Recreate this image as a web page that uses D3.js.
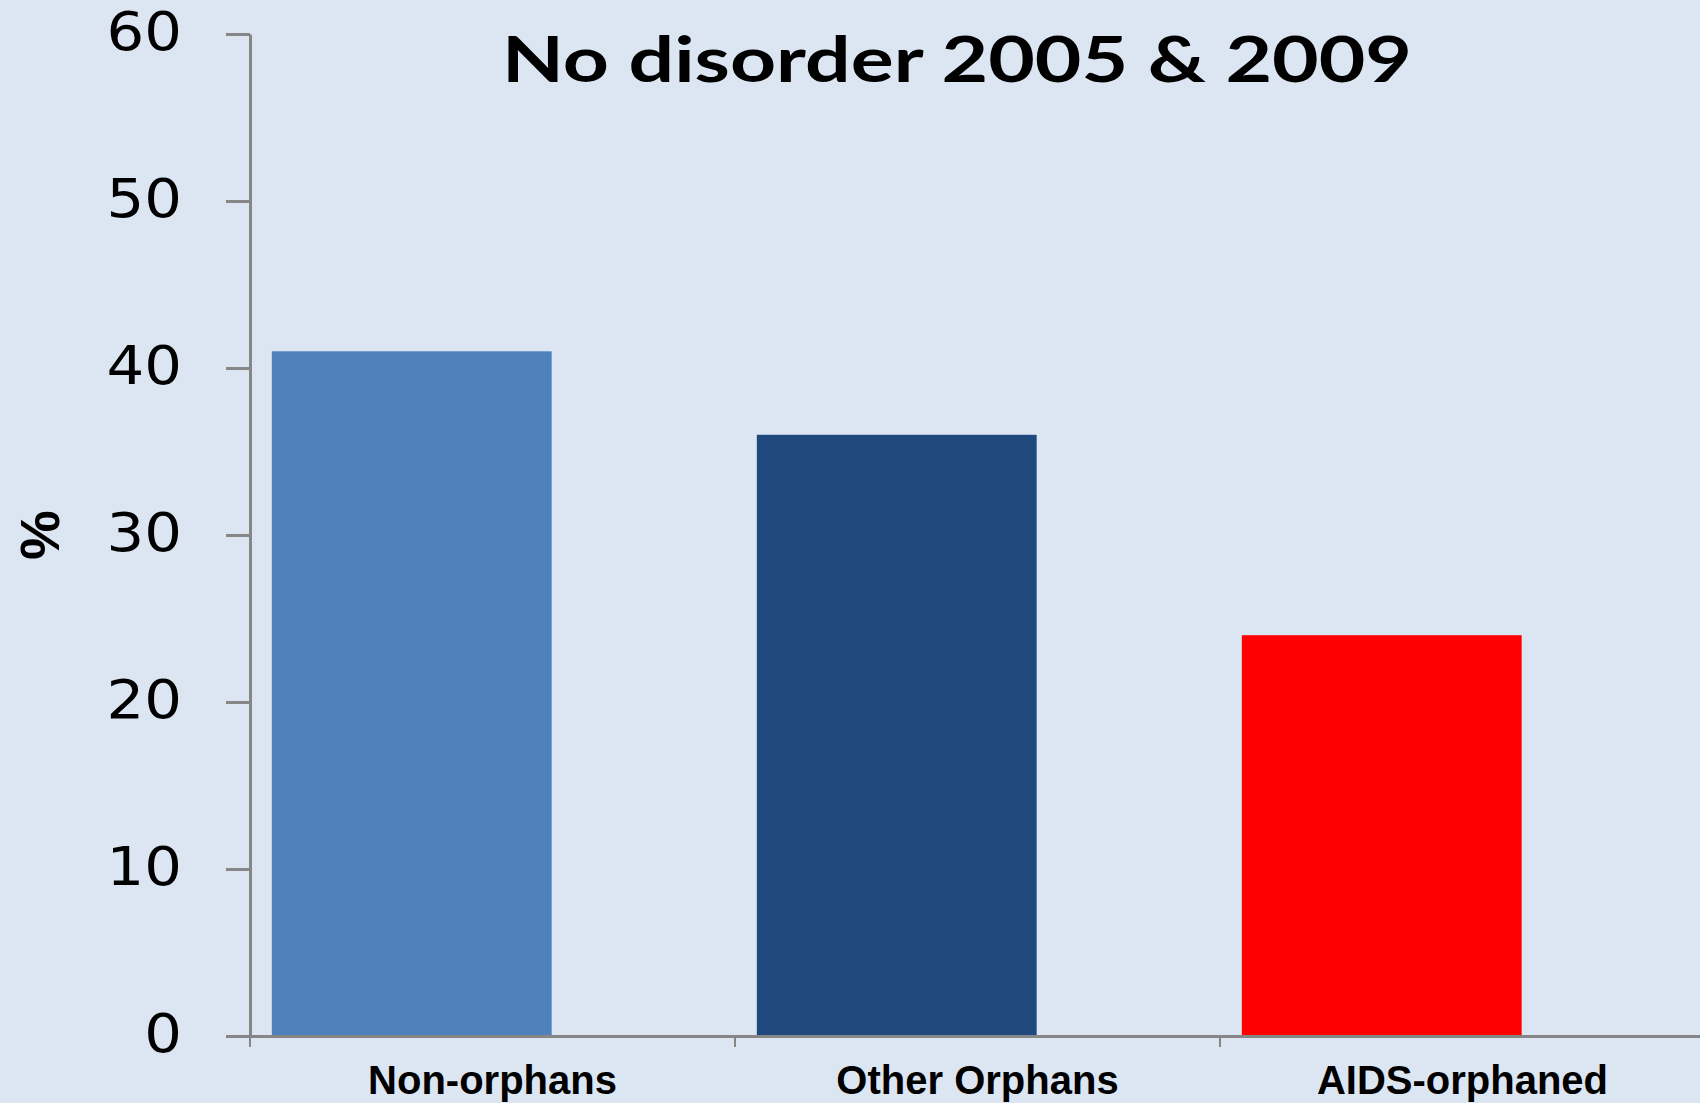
<!DOCTYPE html>
<html>
<head>
<meta charset="utf-8">
<script src="https://d3js.org/d3.v7.min.js"></script>
<style>
  body { margin: 0; background: #dce6f2; }
  svg { display: block; }
</style>
</head>
<body>
<script>
  // data
  var categories = ["Non-orphans", "Other Orphans", "AIDS-orphaned"]
  var values = [41, 36, 24]
  var barColors = ["#4f81bd", "#1f497d", "#ff0000"]
  var yTicks = [0, 10, 20, 30, 40, 50, 60]
  var title = "No disorder 2005 & 2009"
  var yLabel = "%"

  var width = 1700, height = 1103
  var svg = d3.select("body").append("svg")
      .attr("width", width)
      .attr("height", height)

  svg.append("rect")
      .attr("width", width)
      .attr("height", height)
      .attr("fill", "#dce6f2")

  var y = d3.scaleLinear()
      .domain([0, 60])
      .range([1036, 34])

  var x = d3.scaleBand()
      .domain(categories)
      .range([250, 1705])
      .padding(0)

  var bw = x.bandwidth()

  // bars
  svg.append("g")
      .selectAll("rect")
      .data(values)
      .enter()
      .append("rect")
      .attr("x", function(d, i) { return x(categories[i]) + bw * 0.045 })
      .attr("width", bw * 0.577)
      .attr("y", function(d) { return y(d) })
      .attr("height", function(d) { return y(0) - y(d) })
      .attr("fill", function(d, i) { return barColors[i] })

  // y axis
  var stretch = 1.12
  var yAxis = svg.append("g")
      .attr("transform", "translate(250,0)")
      .call(d3.axisLeft(y)
          .tickValues(yTicks)
          .tickSize(24)
          .tickSizeOuter(0)
          .tickPadding(44))
  yAxis.select(".domain").attr("stroke", "#868686").attr("stroke-width", 3)
  yAxis.selectAll(".tick line").attr("stroke", "#868686").attr("stroke-width", 3)
  yAxis.selectAll(".tick text")
      .attr("fill", "#000")
      .attr("x", -68 / stretch)
      .attr("transform", "scale(" + stretch + ",1)")
      .style("font-family", "DejaVu Sans")
      .style("font-size", "53px")
      .attr("dy", "0.3em")

  // x axis: baseline + boundary ticks
  var xAxis = svg.append("g")
      .attr("transform", "translate(0," + y(0) + ")")
      .call(d3.axisBottom(x).tickValues([]).tickSizeOuter(0))
  xAxis.select(".domain").attr("stroke", "#868686").attr("stroke-width", 3)

  var bounds = categories.map(function(c) { return x(c) }).concat([x.range()[1]])
  xAxis.selectAll(".bound")
      .data(bounds)
      .enter()
      .append("line")
      .attr("class", "bound")
      .attr("x1", function(d) { return d })
      .attr("x2", function(d) { return d })
      .attr("y1", 0)
      .attr("y2", 11)
      .attr("stroke", "#868686")
      .attr("stroke-width", 2)

  svg.append("g")
      .selectAll("text")
      .data(categories)
      .enter()
      .append("text")
      .attr("x", function(d) { return x(d) + bw / 2 })
      .attr("y", 1094)
      .attr("text-anchor", "middle")
      .style("font-family", "Liberation Sans, Arial, sans-serif")
      .style("font-weight", "bold")
      .style("font-size", "40px")
      .text(function(d) { return d })

  // title
  svg.append("text")
      .attr("x", 957)
      .attr("y", 82)
      .attr("text-anchor", "middle")
      .attr("textLength", 910)
      .attr("lengthAdjust", "spacingAndGlyphs")
      .style("font-family", "Lato, Open Sans, sans-serif")
      .style("font-weight", "bold")
      .style("font-size", "63px")
      .text(title)

  // y label
  svg.append("text")
      .attr("transform", "translate(59,535) rotate(-90)")
      .attr("text-anchor", "middle")
      .style("font-family", "Liberation Sans, Arial, sans-serif")
      .style("font-weight", "bold")
      .style("font-size", "56px")
      .text(yLabel)
</script>
</body>
</html>
